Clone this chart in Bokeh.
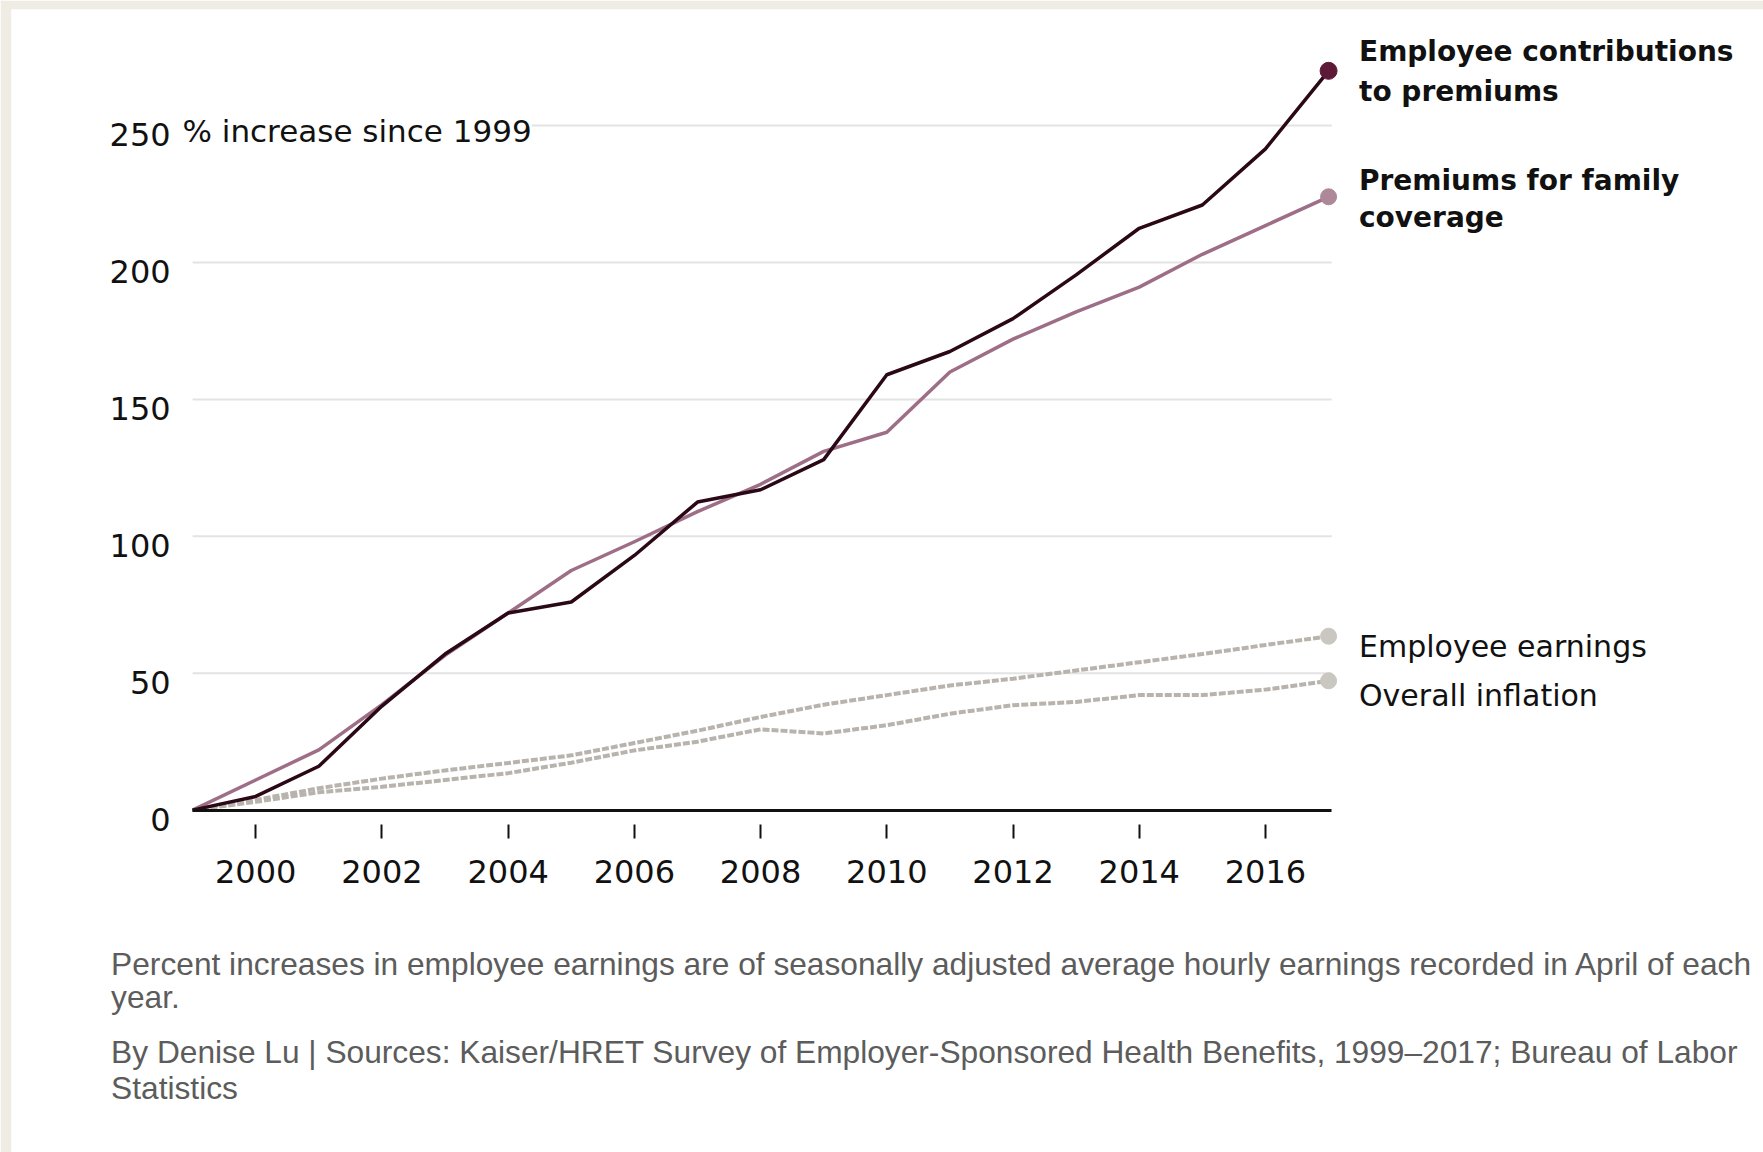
from bokeh.plotting import figure
from bokeh.models import FixedTicker, Label, Range1d
from bokeh.embed import file_html
from bokeh.resources import INLINE

# ---------------- data ----------------
years = list(range(1999, 2018))
employee_contributions = [0, 5, 16, 38, 57, 72, 76, 93, 112.5, 117, 128, 159, 167.5,
                          179.5, 195.5, 212.5, 221, 241.5, 270]
family_premiums = [0, 11, 22, 38.5, 56.5, 72, 87.5, 98, 109, 119, 131, 138, 160,
                   172, 182, 191, 203, 213.5, 224]
employee_earnings = [0, 3.7, 8, 11.5, 14.5, 17.2, 20, 24.5, 29, 34, 38.5, 42, 45.5,
                     48, 51, 54, 57, 60.3, 63.5]
overall_inflation = [0, 3, 6.5, 8.5, 11, 13.5, 17.3, 21.8, 25, 29.5, 28, 31, 35.2,
                     38.3, 39.5, 42, 42, 44, 47.2]
x_ticks = list(range(2000, 2017, 2))
y_ticks = [0, 50, 100, 150, 200, 250]
series_labels = {
    "contrib": ["Employee contributions", "to premiums"],
    "premium": ["Premiums for family", "coverage"],
    "earnings": ["Employee earnings"],
    "inflation": ["Overall inflation"],
}
y_axis_note = "% increase since 1999"
footnote_lines = [
    "Percent increases in employee earnings are of seasonally adjusted average hourly earnings recorded in April of each",
    "year.",
    "By Denise Lu | Sources: Kaiser/HRET Survey of Employer-Sponsored Health Benefits, 1999\u20132017; Bureau of Labor",
    "Statistics",
]

# ---------------- geometry (page pixels) ----------------
W, H = 1763, 1152
FRAME_L, FRAME_T = 11, 9             # beige strip widths
X_ORIGIN_PX, PX_PER_YEAR = 192.1, 63.11
Y_ORIGIN_PX, PX_PER_UNIT = 809.6, 2.738


def dx(px):
    return years[0] + (px - X_ORIGIN_PX) / PX_PER_YEAR


def dy(py):
    return (Y_ORIGIN_PX - py) / PX_PER_UNIT


X_START, X_END = dx(FRAME_L), dx(W)
Y_START, Y_END = dy(H), dy(FRAME_T)
CHART_END = years[-1] + 0.05

p = figure(width=W, height=H, x_range=Range1d(X_START, X_END), y_range=Range1d(Y_START, Y_END),
           output_backend="svg", toolbar_location=None,
           min_border_left=FRAME_L, min_border_top=FRAME_T,
           min_border_right=0, min_border_bottom=0,
           background_fill_color="white", border_fill_color="#efece4",
           outline_line_color=None)

# grid (drawn only across the chart area)
p.xgrid.visible = False
p.ygrid.visible = False
p.segment(x0=[years[0]] * len(y_ticks), x1=[CHART_END] * len(y_ticks),
          y0=y_ticks, y1=y_ticks, line_color="#e3e3e3", line_width=2)

# x axis at y = 0
xa = p.xaxis[0]
xa.fixed_location = 0
xa.bounds = (years[0], CHART_END)
xa.ticker = FixedTicker(ticks=x_ticks)
xa.axis_line_color = "#111111"
xa.axis_line_width = 3
xa.major_tick_line_color = "#111111"
xa.major_tick_line_width = 2
xa.major_tick_in = -14
xa.major_tick_out = 28
xa.minor_tick_line_color = None
xa.major_label_standoff = 22
xa.major_label_text_font = "DejaVu Sans"
xa.major_label_text_font_size = "32px"
xa.major_label_text_color = "#111111"

# y axis at x = 1999 (labels hang just below their grid line)
ya = p.yaxis[0]
ya.fixed_location = years[0]
ya.ticker = FixedTicker(ticks=y_ticks)
ya.axis_line_color = None
ya.major_tick_line_color = None
ya.major_tick_in = 0
ya.major_tick_out = 0
ya.minor_tick_line_color = None
ya.major_label_standoff = 22
ya.major_label_text_font = "DejaVu Sans"
ya.major_label_text_font_size = "32px"
ya.major_label_text_color = "#111111"
ya.major_label_text_line_height = 0.5
ya.major_label_overrides = {t: "\n" + str(t) for t in y_ticks}

# series
gray_line = "#b8b4ad"
gray_dot = "#cac7c1"
p.line(years, overall_inflation, line_color=gray_line, line_width=4, line_dash="7 2")
p.line(years, employee_earnings, line_color=gray_line, line_width=4, line_dash="7 2")
p.line(years, family_premiums, line_color="#9e6e87", line_width=3.5, line_join="round")
p.line(years, employee_contributions, line_color="#2a0816", line_width=3.5, line_join="round")

p.scatter([years[-1]], [overall_inflation[-1]], size=16, color=gray_dot)
p.scatter([years[-1]], [employee_earnings[-1]], size=16, color=gray_dot)
p.scatter([years[-1]], [family_premiums[-1]], size=16, color="#ae8899")
p.scatter([years[-1]], [employee_contributions[-1]], size=17, color="#5e1838")

# y-axis note next to 250
p.add_layout(Label(x=dx(182), y=dy(130.5), text=y_axis_note, text_font="DejaVu Sans",
                   text_font_size="31px", text_color="#111111", text_baseline="alphabetic",
                   background_fill_color="white"))

# series labels
LBL_X = dx(1358.5)
for txt, yy in zip(series_labels["contrib"] + series_labels["premium"], [50.7, 91, 180, 217]):
    p.add_layout(Label(x=LBL_X, y=dy(yy), text=txt, text_font="DejaVu Sans",
                       text_font_style="bold", text_font_size="28px",
                       text_color="#111111", text_baseline="alphabetic"))
for txt, yy in zip(series_labels["earnings"] + series_labels["inflation"], [646, 695]):
    p.add_layout(Label(x=LBL_X, y=dy(yy), text=txt, text_font="DejaVu Sans",
                       text_font_size="30px", text_color="#111111",
                       text_baseline="alphabetic"))

# footnotes
for txt, yy in zip(footnote_lines, [963.3, 996.3, 1051, 1087]):
    p.add_layout(Label(x=dx(110.6), y=dy(yy), text=txt, text_font="Liberation Sans",
                       text_font_size="31.7px", text_color="#5c5c5c",
                       text_baseline="alphabetic"))

open("out.html", "w").write(file_html(p, INLINE))
